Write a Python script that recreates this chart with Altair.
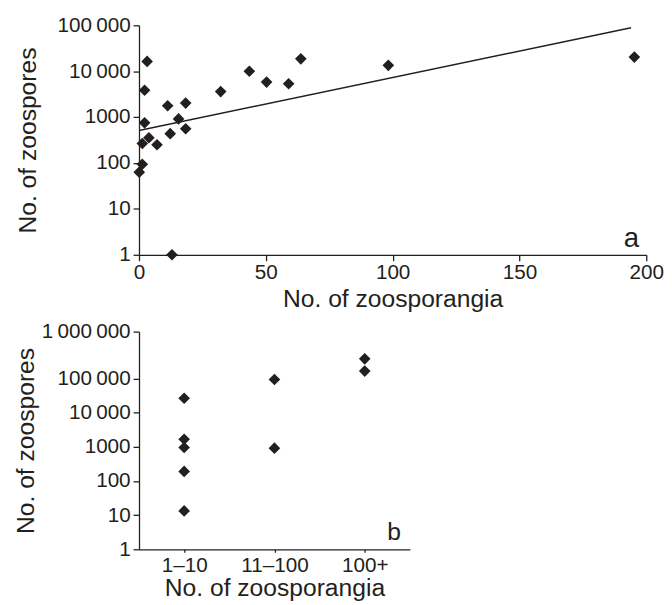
import altair as alt
import pandas as pd

# Panel a: individual observations
a_sporangia = [3.2, 2.2, 2.2, 3.9, 1.3, 7.1, 1.3, 0.1, 11.3, 12.3, 15.6, 18.4, 18.4,
               32.2, 43.5, 50.3, 59.0, 63.8, 13.0, 98.3, 195.3]
a_zoospores = [16300, 3840, 750, 355, 266, 250, 94, 63, 1770, 436, 912, 2020, 558,
               3590, 9980, 5780, 5330, 18600, 1, 13400, 20300]
# Trend line end points (as drawn)
trend_x = [0, 194]
trend_y = [510, 88000]

# Panel b: grouped
b_group = ["1–10", "1–10", "1–10", "1–10", "1–10", "11–100", "11–100", "100+", "100+"]
b_zoospores = [26300, 1660, 955, 190, 13.3, 93000, 910, 374000, 164000]
b_order = ["1–10", "11–100", "100+"]

a_x_ticks = [0, 50, 100, 150, 200]
a_y_ticks = [1, 10, 100, 1000, 10000, 100000]
b_top = 10 ** 6.37
b_y_ticks = [1, 10, 100, 1000, 10000, 100000, b_top]

INK = "#231f20"
FONT = "Liberation Sans"
SEP = "\u2009"

label_expr = ("datum.value > 1500000 ? '1" + SEP + "000" + SEP + "000' : (datum.value >= 10000 ? "
              "replace(replace(format(datum.value, ','), ',', '" + SEP + "'), ',', '" + SEP + "') : format(datum.value, 'd'))")

df_a = pd.DataFrame({"x": a_sporangia, "y": a_zoospores})
df_t = pd.DataFrame({"x": trend_x, "y": trend_y})
df_b = pd.DataFrame({"g": b_group, "y": b_zoospores})

xa = alt.X("x:Q", scale=alt.Scale(domain=[0, 200], nice=False, zero=False),
           axis=alt.Axis(values=a_x_ticks, title="No. of zoosporangia", grid=False,
                         labelPadding=1, titlePadding=4))
ya = alt.Y("y:Q", scale=alt.Scale(type="log", domain=[1, 100000], nice=False),
           axis=alt.Axis(values=a_y_ticks, labelExpr=label_expr, title="No. of zoospores",
                         grid=False, titlePadding=17))

pts_a = alt.Chart(df_a).mark_point(shape="diamond", filled=True, size=140, color=INK,
                                   opacity=1, clip=False).encode(x=xa, y=ya)
line_a = alt.Chart(df_t).mark_line(color=INK, strokeWidth=1.5).encode(x=xa, y=ya)
lab_a = alt.Chart(pd.DataFrame({"t": ["a"]})).mark_text(
    font=FONT, fontSize=28, color=INK, align="center", baseline="alphabetic"
).encode(x=alt.value(500), y=alt.value(225), text="t:N")

top = alt.layer(line_a, pts_a, lab_a).properties(width=515, height=233)

xb = alt.X("g:N", sort=b_order, scale=alt.Scale(domain=b_order, paddingInner=0, paddingOuter=0),
           axis=alt.Axis(labelAngle=0, title="No. of zoosporangia", grid=False, tickSize=3,
                         labelPadding=3, titlePadding=0))
yb = alt.Y("y:Q", scale=alt.Scale(type="log", domain=[1, b_top], nice=False),
           axis=alt.Axis(values=b_y_ticks, labelExpr=label_expr, title="No. of zoospores",
                         grid=False, titlePadding=3))

pts_b = alt.Chart(df_b).mark_point(shape="diamond", filled=True, size=140, color=INK,
                                   opacity=1, clip=False).encode(x=xb, y=yb)
lab_b = alt.Chart(pd.DataFrame({"t": ["b"]})).mark_text(
    font=FONT, fontSize=25, color=INK, align="center", baseline="alphabetic"
).encode(x=alt.value(259), y=alt.value(212), text="t:N")

bottom = alt.layer(pts_b, lab_b).properties(width=275, height=221)

chart = alt.vconcat(top, bottom, spacing=10).properties(
    padding={"left": 5, "top": 2, "right": 0, "bottom": 0}
).configure_view(stroke=None).configure_axis(
    labelFont=FONT, titleFont=FONT, labelFontSize=21, titleFontSize=25,
    labelColor=INK, titleColor=INK, domainColor=INK, tickColor=INK,
    domainWidth=1.3, tickWidth=1.3, tickSize=6, labelPadding=3,
    titleFontWeight="normal", labelFlush=False
)

chart.save("out.html", embed_options={"renderer": "svg", "actions": False})
